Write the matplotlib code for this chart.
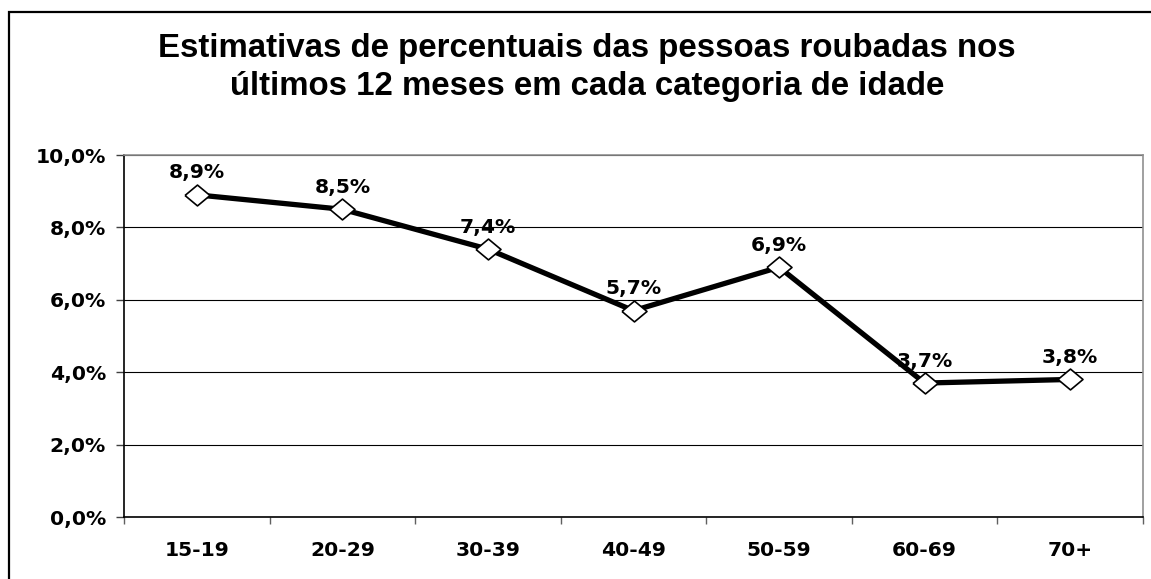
import numpy as np
import matplotlib.pyplot as plt
from matplotlib.patches import Rectangle
from matplotlib.ticker import FuncFormatter

categories = ["15-19", "20-29", "30-39", "40-49", "50-59", "60-69", "70+"]
values = [8.9, 8.5, 7.4, 5.7, 6.9, 3.7, 3.8]
value_labels = ["8,9%", "8,5%", "7,4%", "5,7%", "6,9%", "3,7%", "3,8%"]
yticks = [0, 2, 4, 6, 8, 10]
title_lines = ["Estimativas de percentuais das pessoas roubadas nos",
               "últimos 12 meses em cada categoria de idade"]

W, H = 1151, 579
fig = plt.figure(figsize=(W / 100, H / 100), dpi=100)
fig.patch.set_facecolor("white")

# outer chart frame (cut off at right and bottom like the original)
fig.add_artist(Rectangle((9 / W, -0.2), 1.2, 1.2 - 12 / H,
                         transform=fig.transFigure, fill=False,
                         edgecolor="black", linewidth=1.6))

ax = fig.add_axes([124 / W, 1 - 517 / H, (1143 - 124) / W, (517 - 155) / H])

x = np.arange(len(categories))
diamond = [(-1.2, 0), (0, 1), (1.2, 0), (0, -1), (-1.2, 0)]
ax.plot(x, values, color="black", linewidth=3.8, marker=diamond,
        markersize=18, markerfacecolor="white", markeredgecolor="black",
        markeredgewidth=1.2, zorder=3)

fs = 14.6
for xi, v, lab in zip(x, values, value_labels):
    ax.annotate(lab, (xi, v), xytext=(0, 9), textcoords="offset points",
                ha="center", va="bottom", fontsize=fs, fontweight="bold",
                family="DejaVu Sans")

ax.set_xlim(-0.5, len(categories) - 0.5)
ax.set_ylim(0, 10)
ax.set_yticks(yticks)
ax.yaxis.set_major_formatter(FuncFormatter(lambda v, p: f"{v:.1f}%".replace(".", ",")))
ax.set_xticks(x)
ax.set_xticklabels(categories)
ax.set_xticks(np.arange(len(categories) + 1) - 0.5, minor=True)
ax.tick_params(axis="x", which="major", length=0, pad=17)
ax.tick_params(axis="x", which="minor", length=5, width=1, color="#606060")
ax.tick_params(axis="y", length=6, width=1, color="#404040", pad=7)
for lab in ax.get_xticklabels() + ax.get_yticklabels():
    lab.set_fontfamily("DejaVu Sans")
    lab.set_fontweight("bold")
    lab.set_fontsize(fs)

ax.grid(axis="y", color="black", linewidth=0.8)
ax.set_axisbelow(True)
for side in ("left", "bottom"):
    ax.spines[side].set_color("black")
    ax.spines[side].set_linewidth(1.2)
for side in ("top", "right"):
    ax.spines[side].set_color("#909090")
    ax.spines[side].set_linewidth(1.2)

for line, base in zip(title_lines, (57, 95)):
    fig.text(587 / W, 1 - base / H, line, ha="center", va="baseline",
             fontsize=23.8, fontweight="bold", family="Liberation Sans")

fig.savefig("out.png", dpi=100)
